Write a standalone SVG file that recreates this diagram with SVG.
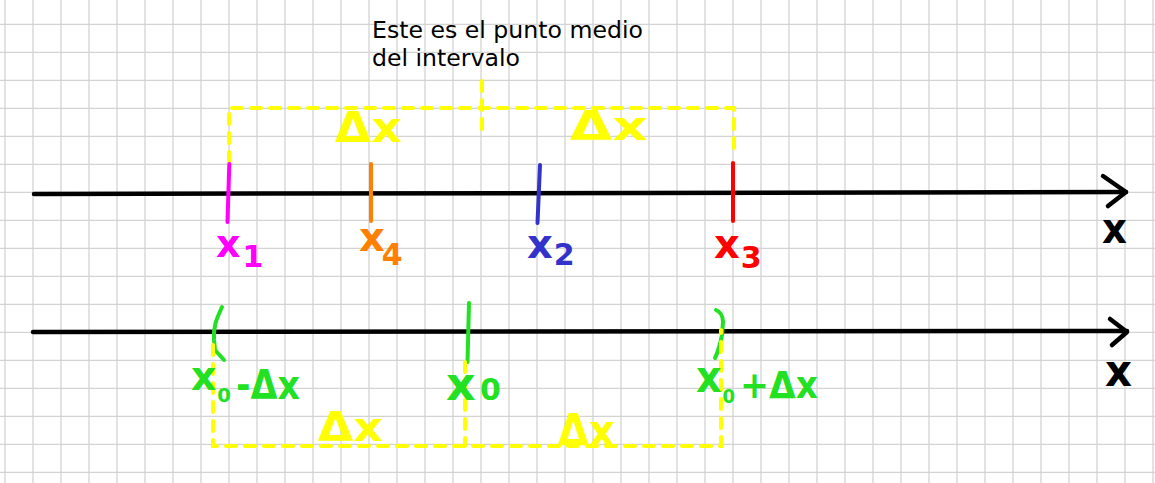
<svg xmlns="http://www.w3.org/2000/svg" width="1155" height="483" viewBox="0 0 1155 483">
<style>
.grid{stroke:#d3d3d3;stroke-width:1.3;fill:none}
.axis{stroke:#000;stroke-width:4.5;fill:none;stroke-linecap:round;stroke-linejoin:round}
.tick{stroke-width:4;fill:none;stroke-linecap:round;stroke-linejoin:round}
.dash{stroke:#ffff00;stroke-width:4;fill:none;stroke-linecap:round;stroke-dasharray:10 9}
.hand{font-family:"DejaVu Sans","Liberation Sans",sans-serif;font-weight:bold}
.note{font-family:"DejaVu Sans","Liberation Sans",sans-serif;font-size:23.6px;fill:#000}
.mag{fill:#ff00ff}.org{fill:#ff8000}.blu{fill:#3333cc}.red{fill:#ff0000}.grn{fill:#22e022}.yel{fill:#ffff00}.blk{fill:#000}
</style>
<rect width="1155" height="483" fill="#fff"/>
<g id="grid">
<path class="grid" d="M5 0V483M33 0V483M61 0V483M89 0V483M117 0V483M145 0V483M173 0V483M201 0V483M229 0V483M257 0V483M285 0V483M313 0V483M341 0V483M369 0V483M397 0V483M425 0V483M453 0V483M481 0V483M509 0V483M537 0V483M565 0V483M593 0V483M621 0V483M649 0V483M677 0V483M705 0V483M733 0V483M761 0V483M789 0V483M817 0V483M845 0V483M873 0V483M901 0V483M929 0V483M957 0V483M985 0V483M1013 0V483M1041 0V483M1069 0V483M1097 0V483M1125 0V483M1153 0V483"/>
<path class="grid" d="M0 24.3H1155M0 52.3H1155M0 80.3H1155M0 108.3H1155M0 136.3H1155M0 164.3H1155M0 192.3H1155M0 220.3H1155M0 248.3H1155M0 276.3H1155M0 304.3H1155M0 332.3H1155M0 360.3H1155M0 388.3H1155M0 416.3H1155M0 444.3H1155M0 472.3H1155"/>
</g>
<g id="note">
<text class="note" x="372" y="38">Este es el punto medio</text>
<text class="note" x="372" y="65.5">del intervalo</text>
</g>
<g id="connectors">
<path class="dash" d="M229 162V108H734V155"/>
<path class="dash" d="M482 81V136"/>
<path class="axis" d="M34 194L1126 192"/>
<path class="axis" d="M1103 176L1126 192L1108 206"/>
<path class="axis" d="M33 332L1127 331"/>
<path class="axis" d="M1110 319L1127 332L1112 345"/>
</g>
<g id="ticks-top">
<path class="tick" stroke="#ff00ff" d="M229.3 164L227.5 222"/>
<path class="tick" stroke="#ff8000" d="M371 164V221"/>
<path class="tick" stroke="#3333cc" d="M540 165L537.5 223"/>
<path class="tick" stroke="#ff0000" d="M733 163V221"/>
</g>
<g id="ticks-bottom">
<path class="tick" stroke="#22e022" d="M222 307C217 318 213 326 214 340L215 350L224 360"/>
<path class="tick" stroke="#22e022" d="M469 303L467.5 362"/>
<path class="tick" stroke="#22e022" d="M716 310Q723 313 723 322L722 335Q719 350 715 358"/>
</g>
<g id="bottom-box">
<path class="dash" d="M213 345V446H721V330"/>
<path class="dash" d="M465 362V446"/>
</g>
<g id="label-x1"><text class="hand mag" x="216" y="257" font-size="38">x<tspan font-size="30" dy="10" dx="2">1</tspan></text></g>
<g id="label-x4"><text class="hand org" x="359" y="251" font-size="40">x<tspan font-size="30" dy="14" dx="-3">4</tspan></text></g>
<g id="label-x2"><text class="hand blu" x="527" y="258" font-size="40">x<tspan font-size="30" dy="7" dx="1">2</tspan></text></g>
<g id="label-x3"><text class="hand red" x="714" y="258" font-size="40">x<tspan font-size="30" dy="10" dx="1">3</tspan></text></g>
<g id="label-axis1"><text class="hand blk" x="1102" y="243" font-size="42" textLength="25" lengthAdjust="spacingAndGlyphs">x</text></g>
<g id="label-axis2"><text class="hand blk" x="1105" y="386" font-size="44" textLength="27" lengthAdjust="spacingAndGlyphs">x</text></g>
<g id="label-dx-top-left"><text class="hand yel" x="335" y="142" font-size="42" textLength="67" lengthAdjust="spacingAndGlyphs">Δx</text></g>
<g id="label-dx-top-right"><text class="hand yel" x="570" y="140" font-size="40" textLength="78" lengthAdjust="spacingAndGlyphs">Δx</text></g>
<g id="label-dx-bottom-left"><text class="hand yel" x="318" y="441" font-size="40" textLength="65" lengthAdjust="spacingAndGlyphs">Δx</text></g>
<g id="label-dx-bottom-right"><text class="hand yel" x="558" y="446" font-size="44" textLength="57" lengthAdjust="spacingAndGlyphs">Δx</text></g>
<g id="label-x0-minus">
<text class="hand grn" x="191" y="390" font-size="40" textLength="40" lengthAdjust="spacingAndGlyphs">x<tspan font-size="20" dy="12" dx="1">0</tspan></text>
<text class="hand grn" x="236" y="399" font-size="40" textLength="64" lengthAdjust="spacingAndGlyphs">-Δx</text>
</g>
<g id="label-x0">
<text class="hand grn" y="400"><tspan x="446" font-size="46">x</tspan><tspan x="480" font-size="30">0</tspan></text>
</g>
<g id="label-x0-plus">
<text class="hand grn" x="696" y="392" font-size="44" textLength="39" lengthAdjust="spacingAndGlyphs">x<tspan font-size="20" dy="11" dx="1">0</tspan></text>
<text class="hand grn" x="740" y="398" font-size="38" textLength="78" lengthAdjust="spacingAndGlyphs">+Δx</text>
</g>
</svg>
